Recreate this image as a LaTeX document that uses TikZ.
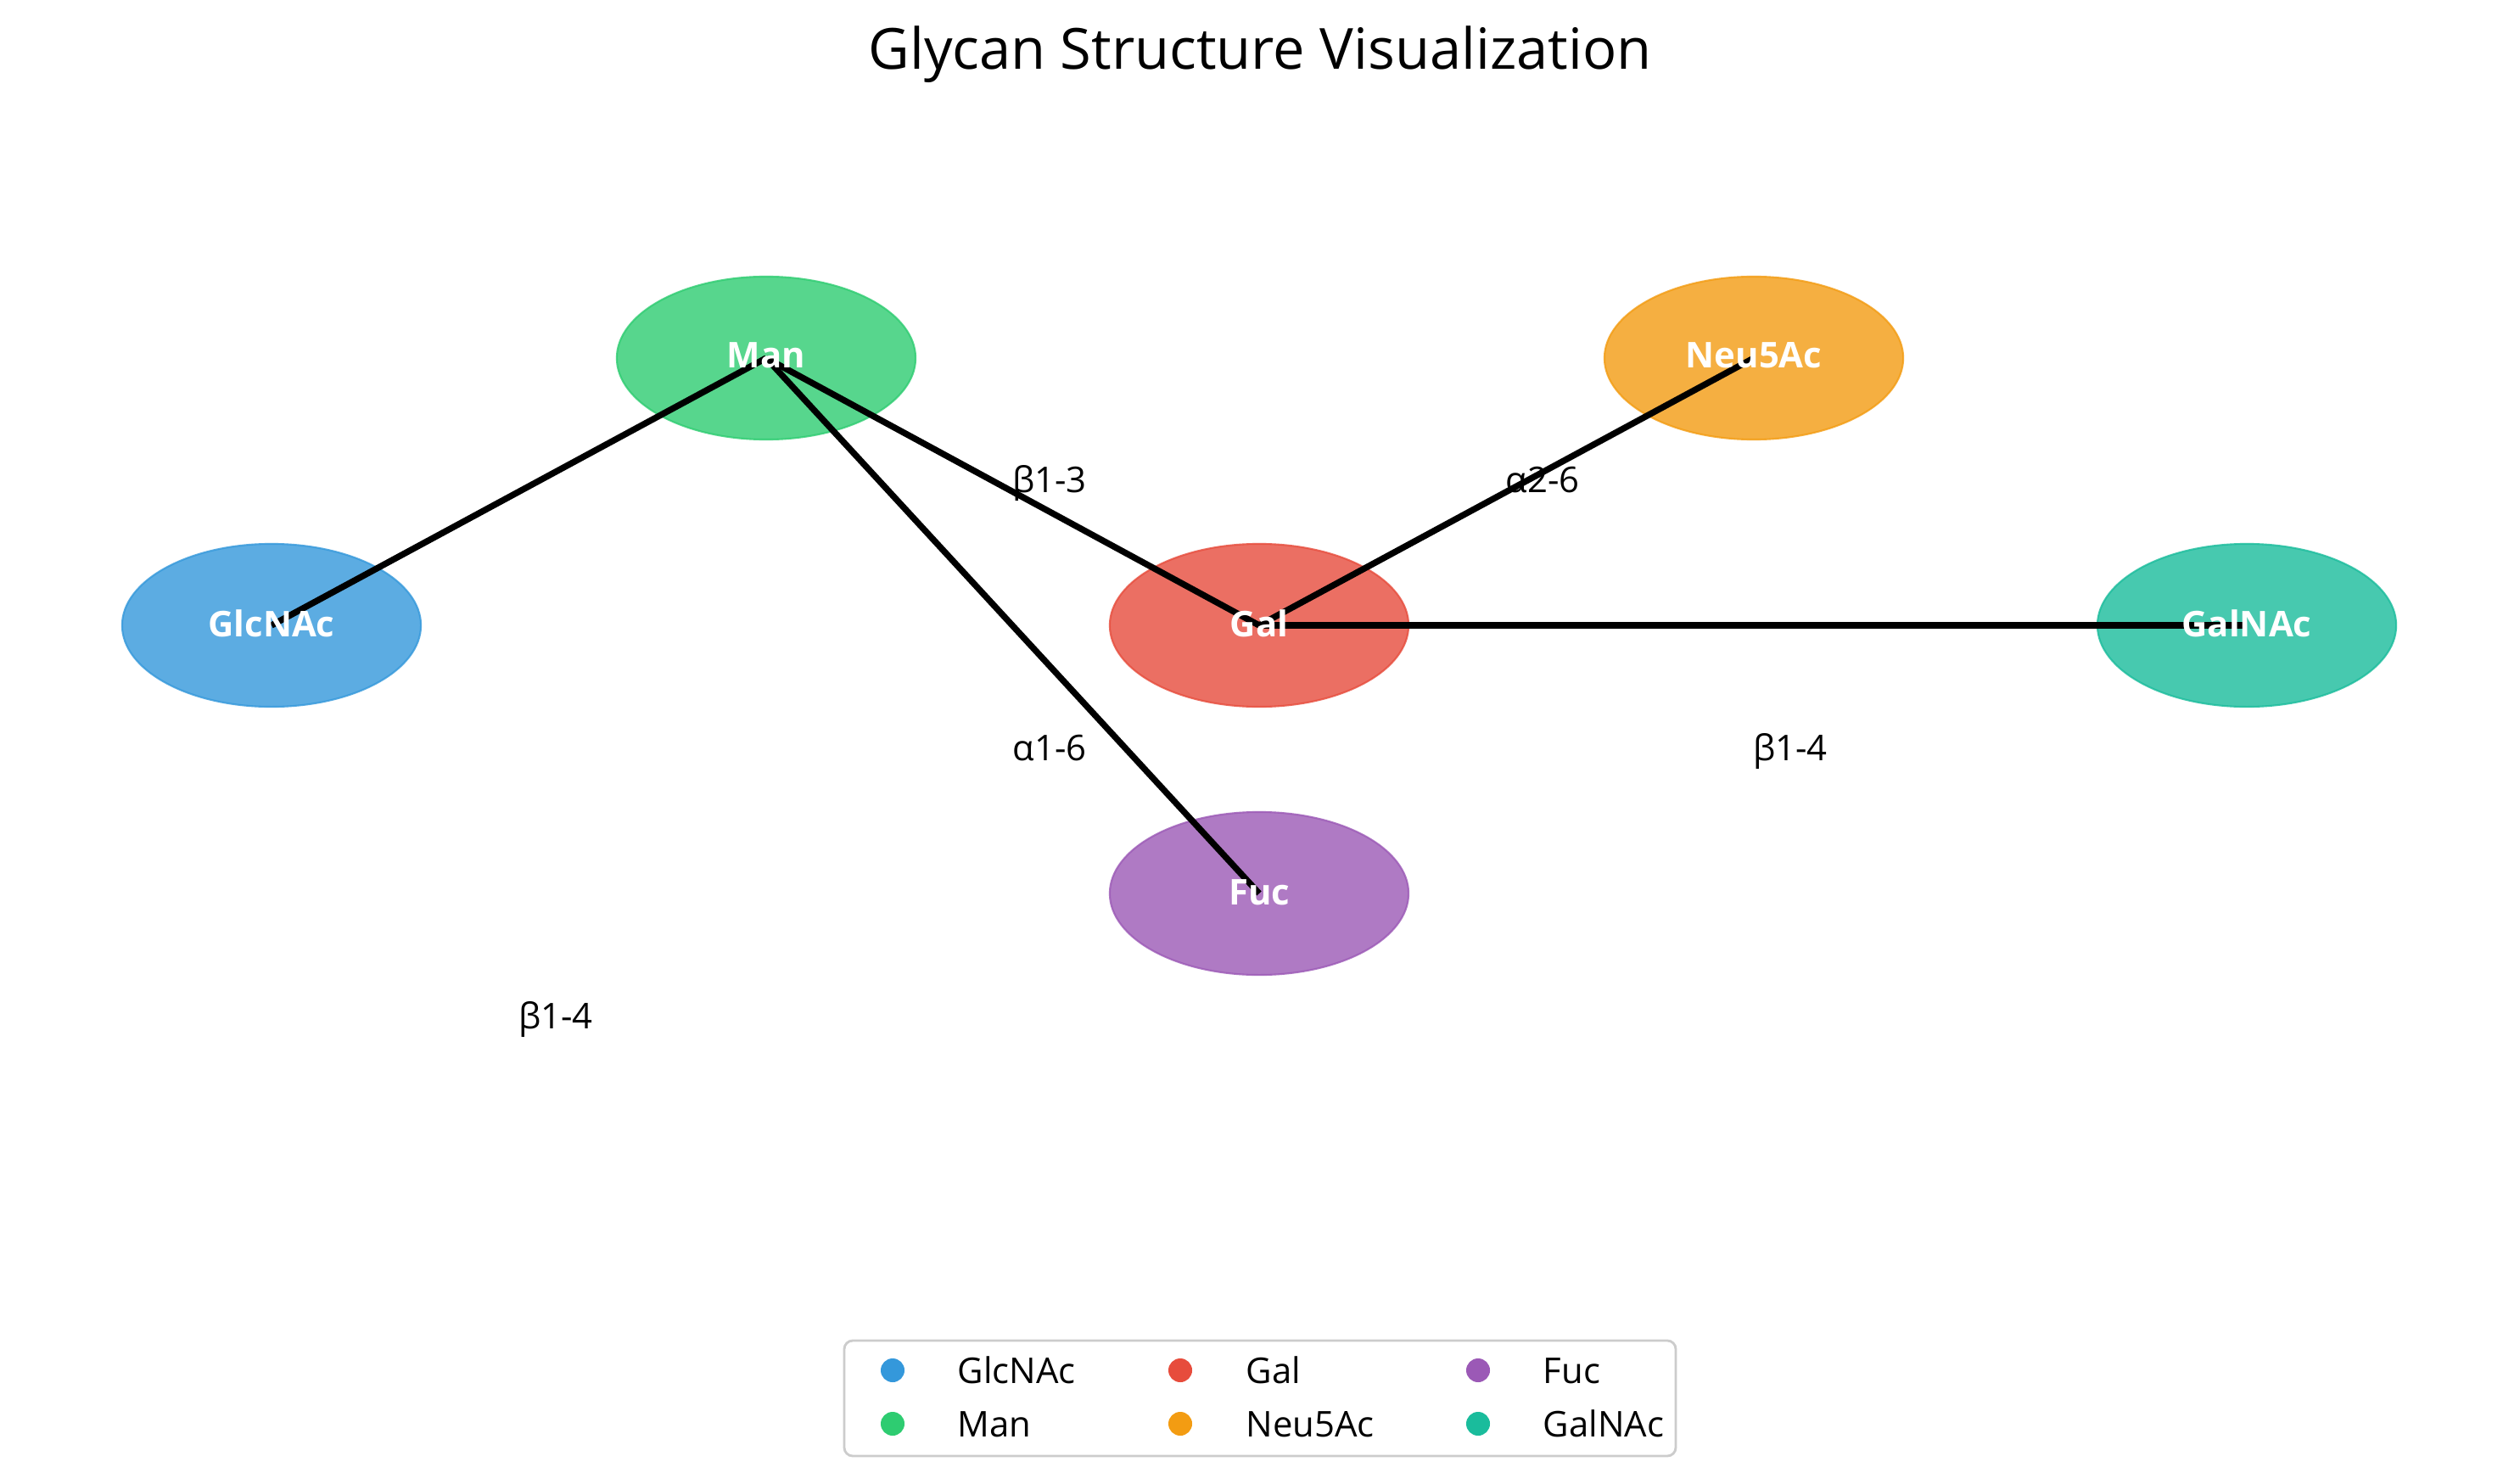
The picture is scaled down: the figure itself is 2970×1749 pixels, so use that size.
\documentclass[tikz,border=0pt]{standalone}
\usepackage{fontspec}
\setmainfont{Open Sans}
\usetikzlibrary{shapes.geometric}
\definecolor{cglc}{HTML}{3498DB}
\definecolor{cman}{HTML}{2ECC71}
\definecolor{cgal}{HTML}{E74C3C}
\definecolor{cneu}{HTML}{F39C12}
\definecolor{cfuc}{HTML}{9B59B6}
\definecolor{cgln}{HTML}{1ABC9C}
\definecolor{legframe}{gray}{0.8}
\begin{document}
\begin{tikzpicture}[x=0.01cm,y=-0.01cm,
  sugar/.style={ellipse, minimum width=3.52cm, minimum height=1.92cm, inner sep=0pt,
    fill=#1, draw=#1, fill opacity=0.8, draw opacity=0.8, line width=0.6pt},
  bond/.style={line width=2.1pt, draw=black},
  sname/.style={text=white, font=\fontsize{11.9}{14}\selectfont\bfseries, anchor=base, inner sep=0pt},
  blabel/.style={font=\fontsize{11.9}{14}\selectfont, anchor=base, inner sep=0pt},
  legmark/.style={circle, fill=#1, minimum size=0.28cm, inner sep=0pt},
  legtext/.style={font=\fontsize{11.9}{14}\selectfont, anchor=base west, inner sep=0pt}]
\fill[white] (0,0) rectangle (2970,1749);
\useasboundingbox (0,0) rectangle (2970,1749);

% title
\node[font=\fontsize{19}{23}\selectfont, anchor=base, inner sep=0pt] (title) at (1485,82) {Glycan Structure Visualization};

% sugar ellipses
\node[sugar=cglc] (glc) at (320,737) {};
\node[sugar=cman] (man) at (903,422) {};
\node[sugar=cgal] (gal) at (1484,737) {};
\node[sugar=cneu] (neu) at (2067,422) {};
\node[sugar=cgln] (gln) at (2648,737) {};
\node[sugar=cfuc] (fuc) at (1484,1053) {};

% bonds
\draw[bond] (man.center) -- (glc.center);
\draw[bond] (man.center) -- (gal.center);
\draw[bond] (man.center) -- (fuc.center);
\draw[bond] (gal.center) -- (neu.center);
\draw[bond] (gal.center) -- (gln.center);

% sugar names
\node[sname] (tglc) at (320,750) {GlcNAc};
\node[sname] (tman) at (903,434) {Man};
\node[sname] (tgal) at (1484,750) {Gal};
\node[sname] (tneu) at (2067,434) {Neu5Ac};
\node[sname] (tgln) at (2648,750) {GalNAc};
\node[sname] (tfuc) at (1484,1066) {Fuc};

% linkage labels
\node[blabel] (l1) at (1237,580) {β1-3};
\node[blabel] (l2) at (1818,580) {α2-6};
\node[blabel] (l3) at (1237,896) {α1-6};
\node[blabel] (l4) at (2110,896) {β1-4};
\node[blabel] (l5) at (655,1212) {β1-4};

% legend
\draw[legframe, line width=0.8pt, fill=white, rounded corners=0.1cm] (995,1580) rectangle (1975,1716);
\node[legmark=cglc] (m1) at (1052,1615) {};
\node[legmark=cman] (m2) at (1052,1678) {};
\node[legmark=cgal] (m3) at (1391,1615) {};
\node[legmark=cneu] (m4) at (1391,1678) {};
\node[legmark=cfuc] (m5) at (1742,1615) {};
\node[legmark=cgln] (m6) at (1742,1678) {};
\node[legtext] (t1) at (1128,1630) {GlcNAc};
\node[legtext] (t2) at (1128,1693) {Man};
\node[legtext] (t3) at (1468,1630) {Gal};
\node[legtext] (t4) at (1468,1693) {Neu5Ac};
\node[legtext] (t5) at (1818,1630) {Fuc};
\node[legtext] (t6) at (1818,1693) {GalNAc};
\end{tikzpicture}
\end{document}
